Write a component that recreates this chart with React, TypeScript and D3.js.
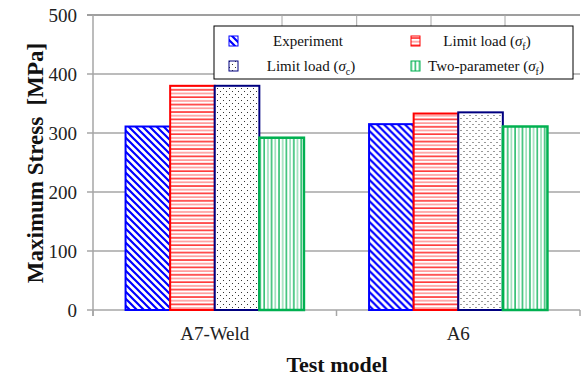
import React from "react";
import * as d3 from "d3";

const categories = ["A7-Weld", "A6"];
const seriesNames = ["Experiment", "Limit load (σf)", "Limit load (σc)", "Two-parameter (σf)"];
const experiment = [311, 315];
const limitLoadF = [380, 333];
const limitLoadC = [380, 335];
const twoParam = [292, 311];
const yTicks = [0, 100, 200, 300, 400, 500];

const W = 581;
const H = 376;
const margin = { left: 93, right: 1, top: 15, bottom: 66 };

export default function App() {
  const x0 = d3
    .scaleBand<string>()
    .domain(categories)
    .range([margin.left, W - margin.right])
    .paddingInner(0)
    .paddingOuter(0);
  const seriesKeys = [0, 1, 2, 3];
  const x1 = d3
    .scaleBand<number>()
    .domain(seriesKeys)
    .range([0, x0.bandwidth()])
    .paddingInner(0)
    .paddingOuter(0.73);
  const y = d3.scaleLinear().domain([0, 500]).range([H - margin.bottom, margin.top]);

  const data = [experiment, limitLoadF, limitLoadC, twoParam];
  const fills = ["url(#pExp)", "url(#pLF)", "url(#pLC)", "url(#pTP)"];
  const strokes = ["#0000ff", "#ff0000", "#000080", "#00b050"];
  const strokeW = [2, 2, 2, 2.5];

  const font = "'Liberation Serif', 'Times New Roman', serif";
  const y0 = y(0);
  const topTicks = [282, 356.7, 431, 505];

  const legendItems = [
    { i: 0, cx: 308, cy: 41, sx: 229 },
    { i: 1, cx: 487, cy: 41, sx: 411 },
    { i: 2, cx: 311, cy: 66, sx: 229 },
    { i: 3, cx: 486, cy: 66, sx: 411 },
  ];

  const label = (i: number) => {
    if (i === 0) return <tspan>{seriesNames[0]}</tspan>;
    const sub = i === 2 ? "c" : "f";
    const pre = i === 3 ? "Two-parameter (" : "Limit load (";
    return (
      <>
        <tspan>{pre}</tspan>
        <tspan fontStyle="italic">σ</tspan>
        <tspan fontSize={10} dy={4}>{sub}</tspan>
        <tspan dy={-4}>)</tspan>
      </>
    );
  };

  return (
    <svg
      width={W}
      height={H}
      style={{ position: "absolute", left: 0, top: 0, background: "#fff" }}
      fontFamily={font}
    >
      <defs>
        <pattern id="pExp" width="7" height="7" patternUnits="userSpaceOnUse">
          <rect width="7" height="7" fill="#fff" />
          <path d="M-1,-1 L8,8 M-8,-1 L1,8 M6,-1 L15,8" stroke="#0000ff" strokeWidth="2.2" />
        </pattern>
        <pattern id="pLF" width="7" height="7.4" patternUnits="userSpaceOnUse">
          <rect width="7" height="7.4" fill="#fff" />
          <line x1="0" x2="7" y1="1" y2="1" stroke="#ff0000" strokeWidth="1.3" />
          <line x1="0" x2="7" y1="4.7" y2="4.7" stroke="#ff8080" strokeWidth="1.3" />
        </pattern>
        <pattern id="pLC" width="6" height="6" patternUnits="userSpaceOnUse">
          <rect width="6" height="6" fill="#fff" />
          <rect x="1" y="1" width="1" height="1" fill="#333" />
          <rect x="4" y="4" width="1" height="1" fill="#333" />
        </pattern>
        <pattern id="pTP" width="7.4" height="7" patternUnits="userSpaceOnUse">
          <rect width="7.4" height="7" fill="#fff" />
          <line y1="0" y2="7" x1="1" x2="1" stroke="#00b050" strokeWidth="1.3" />
          <line y1="0" y2="7" x1="4.7" x2="4.7" stroke="#80d8a8" strokeWidth="1.3" />
        </pattern>
      </defs>

      {/* gridlines */}
      {yTicks.map((t) => (
        <g key={t}>
          <line
            x1={margin.left - 6}
            x2={W - margin.right}
            y1={y(t)}
            y2={y(t)}
            stroke={t === 500 ? "#7f7f7f" : "#a6a6a6"}
            strokeWidth={1.5}
          />
          <text
            x={77}
            y={y(t)}
            dy="0.35em"
            textAnchor="end"
            fontSize={19}
            fill="#222"
          >
            {t}
          </text>
        </g>
      ))}
      {/* top short ticks */}
      {topTicks.map((tx) => (
        <line key={tx} x1={tx} x2={tx} y1={margin.top} y2={26} stroke="#a6a6a6" strokeWidth={1} />
      ))}
      {/* left axis */}
      <line x1={margin.left} x2={margin.left} y1={margin.top} y2={y0 + 6} stroke="#a6a6a6" strokeWidth={1.5} />
      {/* category ticks */}
      {[...categories.map((c) => x0(c) as number), W - margin.right].map((tx, i) => (
        <line key={i} x1={tx} x2={tx} y1={y0} y2={y0 + 6} stroke="#a6a6a6" strokeWidth={1.5} />
      ))}

      {/* bars */}
      {categories.map((c, ci) => (
        <g key={c} transform={`translate(${x0(c)},0)`}>
          {seriesKeys.map((s) => {
            const v = data[s][ci];
            return (
              <rect
                key={s}
                x={x1(s) as number}
                y={y(v)}
                width={x1.bandwidth()}
                height={y0 - y(v)}
                fill={fills[s]}
                stroke={strokes[s]}
                strokeWidth={strokeW[s]}
              />
            );
          })}
        </g>
      ))}

      {/* category labels */}
      {categories.map((c) => (
        <text
          key={c}
          x={(x0(c) as number) + x0.bandwidth() / 2}
          y={340}
          textAnchor="middle"
          fontSize={19}
          fill="#222"
        >
          {c}
        </text>
      ))}

      {/* axis titles */}
      <text x={337} y={372} textAnchor="middle" fontSize={22} fontWeight="bold" fill="#111">
        Test model
      </text>
      <text
        transform={`translate(43,163) rotate(-90)`}
        textAnchor="middle"
        fontSize={23}
        fontWeight="bold"
        fill="#111"
      >
        {"Maximum Stress\u00a0\u00a0[MPa]"}
      </text>

      {/* legend */}
      <rect x={214} y={26} width={359} height={53} fill="#fff" stroke="#000" strokeWidth={1} />
      {legendItems.map((it) => (
        <g key={it.i}>
          <rect
            x={it.sx}
            y={it.cy - 5}
            width={9}
            height={10}
            fill={fills[it.i]}
            stroke={strokes[it.i]}
            strokeWidth={1}
          />
          <text x={it.cx} y={it.cy} dy="0.35em" textAnchor="middle" fontSize={15} fill="#111">
            {label(it.i)}
          </text>
        </g>
      ))}
    </svg>
  );
}
